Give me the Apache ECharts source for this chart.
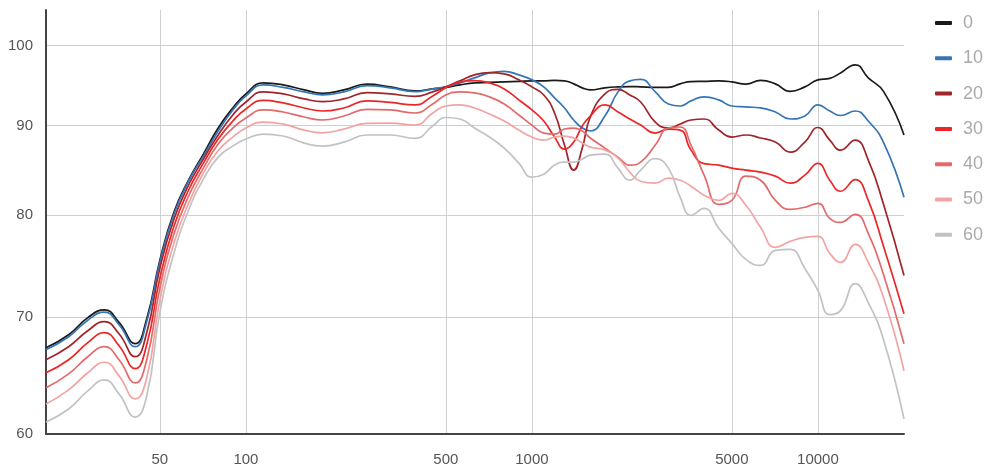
<!DOCTYPE html>
<html>
<head>
<meta charset="utf-8">
<script src="https://cdn.jsdelivr.net/npm/echarts@6/dist/echarts.min.js"></script>
<style>
html,body{margin:0;padding:0;background:#ffffff;}
#chart{width:988px;height:471px;}
</style>
</head>
<body>
<div id="chart"></div>
<script>
// Frequency points (Hz)
const freqs = [20,24,28,32,36,41,45,50,56,63,71,80,90,100,115,135,160,185,220,265,320,390,450,500,560,630,710,800,900,1000,1100,1200,1300,1400,1500,1600,1800,2000,2200,2400,2700,3000,3300,3600,4000,4500,5000,5600,6300,7100,8000,9000,10000,11000,12000,13500,15000,17000,20000];

// Series names (off-axis angle)
const seriesNames = ['0','10','20','30','40','50','60'];

// Levels (dB) for each series
const s0  = [67.21,68.37,69.92,70.64,69.49,67.57,69.83,75.39,80.32,83.78,86.71,89.73,92.13,93.85,95.22,94.97,94.35,93.93,94.35,95.06,94.72,94.22,94.47,94.66,94.97,95.22,95.28,95.35,95.41,95.47,95.47,95.54,95.47,95.10,94.60,94.35,94.60,94.72,94.76,94.72,94.66,94.66,95.10,95.38,95.41,95.47,95.35,95.06,95.54,95.10,94.16,94.72,95.60,95.79,96.48,97.51,95.85,94.10,88.91];
const s10 = [67.04,68.19,69.69,70.43,69.28,67.30,69.55,75.19,80.10,83.67,86.48,89.38,91.89,93.60,94.97,94.66,94.10,93.72,94.10,94.88,94.60,94.13,94.47,94.72,95.22,95.85,96.48,96.67,96.23,95.60,94.72,93.36,92.13,90.68,89.73,89.38,91.16,94.10,95.47,95.66,94.10,92.62,92.37,92.99,93.48,93.11,92.37,92.25,92.13,91.64,90.80,91.16,92.50,91.76,91.22,91.76,90.56,87.97,81.92];
const s20 = [66.16,67.30,68.73,69.55,68.46,66.42,68.55,74.60,79.58,83.23,86.14,88.91,91.28,92.86,94.10,93.85,93.23,92.90,93.23,94.01,93.85,93.54,94.10,94.72,95.47,96.23,96.52,96.35,95.60,94.72,93.72,91.52,87.74,84.90,87.40,91.04,93.85,94.41,93.72,92.86,90.44,89.73,90.20,90.68,90.80,89.49,88.67,88.91,88.56,88.09,86.93,88.09,89.79,88.32,87.16,88.32,86.02,81.06,73.90];
const s30 = [65.03,66.16,67.66,68.55,67.39,65.38,67.48,73.62,78.85,82.68,85.68,88.44,90.56,92.01,93.05,92.74,92.13,91.76,92.13,92.99,92.80,92.50,93.60,94.60,95.35,95.51,95.22,94.47,93.11,91.89,90.56,88.67,87.28,88.09,89.97,91.16,92.50,91.64,90.80,90.08,89.14,89.61,89.49,87.16,85.62,85.46,85.12,84.90,84.67,84.23,83.45,84.34,85.65,83.78,82.57,83.84,81.59,76.70,70.29];
const s40 = [63.76,64.94,66.42,67.30,66.16,64.17,66.16,72.65,78.02,82.03,85.12,87.86,89.73,90.92,91.89,91.64,91.04,90.68,91.16,91.97,91.89,91.52,92.62,93.72,94.10,93.97,93.48,92.62,91.28,90.08,89.14,89.02,89.61,89.73,89.38,88.56,87.39,86.36,85.46,85.80,87.74,89.73,89.85,87.74,84.34,81.16,81.59,84.23,83.78,81.59,80.63,80.85,81.27,79.68,79.26,80.10,78.12,73.90,67.57];
const s50 = [62.42,63.59,65.03,65.94,64.77,62.84,64.60,71.51,77.10,81.27,84.56,87.11,88.67,89.73,90.44,90.20,89.49,89.17,89.61,90.28,90.32,90.08,91.52,92.37,92.50,92.13,91.40,90.56,89.49,88.67,88.32,88.67,88.79,88.56,87.97,87.51,87.16,86.25,84.67,83.67,83.45,84.01,83.78,83.12,82.14,81.59,82.35,81.06,78.74,76.70,77.30,77.71,77.81,76.09,75.19,77.00,75.19,71.70,65.20];
const s60 = [60.96,62.01,63.50,64.43,63.25,61.35,63.08,70.38,76.09,80.53,83.89,86.36,87.62,88.44,89.02,88.79,87.97,87.62,88.09,88.91,88.91,88.52,89.97,90.98,90.80,89.73,88.67,87.39,85.68,84.12,84.45,85.46,85.80,85.80,86.14,86.59,86.71,85.12,83.78,84.90,86.19,85.12,81.92,80.00,80.74,78.64,77.10,75.49,74.89,76.39,76.49,74.60,72.46,70.20,70.57,73.13,71.32,67.84,61.20];

// Axis ticks
const xTickLabels = [50,100,500,1000,5000,10000];
const yTickLabels = [60,70,80,90,100];
const xRange = [20,20000];
const yRange = [60,104.8];

const colors = ['#1a1a1a','#3575b5','#a0242a','#ec2626','#e36a6a','#f2a4a4','#c2c2c2'];
const allSeries = [s0,s10,s20,s30,s40,s50,s60];

const lg = Math.log10;
const chart = echarts.init(document.getElementById('chart'), null, {renderer:'canvas'});
const fmt = v => String(Math.round(Math.pow(10, v)));
const font = 'Arial, "Liberation Sans", sans-serif';

chart.setOption({
  animation:false,
  backgroundColor:'#ffffff',
  grid:{left:46,right:84,top:10,bottom:37,containLabel:false},
  legend:{
    orient:'vertical', left:930, top:8, itemWidth:17, itemHeight:4, itemGap:15.3,
    icon:'roundRect',
    data:seriesNames,
    textStyle:{color:'#aaaaaa',fontSize:18,fontFamily:font,lineHeight:20,padding:[0,0,0,6]}
  },
  xAxis:{
    type:'value', min:lg(xRange[0]), max:lg(xRange[1]),
    axisLine:{show:true,onZero:false,lineStyle:{color:'#444',width:2}},
    axisTick:{show:false,customValues:xTickLabels.map(lg)},
    axisLabel:{customValues:xTickLabels.map(lg),formatter:fmt,color:'#555',fontSize:15,fontFamily:font,margin:18},
    splitLine:{show:true,lineStyle:{color:'#d0d0d0',width:1}}
  },
  yAxis:{
    type:'value', min:lg(yRange[0]), max:lg(yRange[1]),
    axisLine:{show:true,onZero:false,lineStyle:{color:'#444',width:2}},
    axisTick:{show:false,customValues:yTickLabels.map(lg)},
    axisLabel:{customValues:yTickLabels.map(lg),formatter:fmt,color:'#555',fontSize:15,fontFamily:font,margin:13},
    splitLine:{show:true,lineStyle:{color:'#d0d0d0',width:1}}
  },
  series: allSeries.map((vals,k)=>({
    name:seriesNames[k], type:'line', smooth:0.5, showSymbol:false, symbol:'none',
    data: freqs.map((f,i)=>[lg(f), lg(vals[i])]),
    lineStyle:{color:colors[k],width:1.7},
    itemStyle:{color:colors[k]}
  }))
});
</script>
</body>
</html>
